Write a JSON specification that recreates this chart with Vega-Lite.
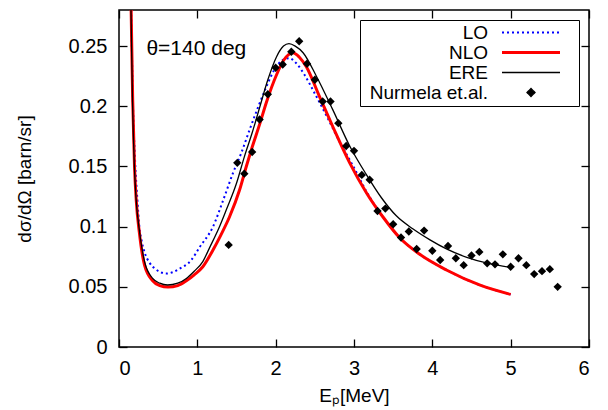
{
  "$schema": "https://vega.github.io/schema/vega-lite/v6.json",
  "width": 470,
  "height": 337,
  "autosize": {"type": "none"},
  "padding": {"left": 119, "top": 10, "right": 19, "bottom": 63},
  "config": {
    "font": "Liberation Sans",
    "view": {"stroke": "black", "strokeWidth": 1.5},
    "axis": {"labelColor": "black", "titleColor": "black", "tickColor": "black", "grid": false, "domain": false, "titleFontWeight": "normal"}
  },
  "datasets": {
    "curves": [
      {"series": "LO", "x": 0.14, "y": 0.33},
      {"series": "LO", "x": 0.155, "y": 0.28},
      {"series": "LO", "x": 0.177, "y": 0.205},
      {"series": "LO", "x": 0.205, "y": 0.155},
      {"series": "LO", "x": 0.235, "y": 0.122},
      {"series": "LO", "x": 0.26, "y": 0.1},
      {"series": "LO", "x": 0.29, "y": 0.088},
      {"series": "LO", "x": 0.33, "y": 0.078},
      {"series": "LO", "x": 0.39, "y": 0.07},
      {"series": "LO", "x": 0.46, "y": 0.065},
      {"series": "LO", "x": 0.52, "y": 0.0625},
      {"series": "LO", "x": 0.6, "y": 0.061},
      {"series": "LO", "x": 0.7, "y": 0.0625},
      {"series": "LO", "x": 0.77, "y": 0.065},
      {"series": "LO", "x": 0.92, "y": 0.072},
      {"series": "LO", "x": 1.03, "y": 0.083},
      {"series": "LO", "x": 1.2, "y": 0.1},
      {"series": "LO", "x": 1.33, "y": 0.122},
      {"series": "LO", "x": 1.455, "y": 0.1445},
      {"series": "LO", "x": 1.56, "y": 0.161},
      {"series": "LO", "x": 1.67, "y": 0.181},
      {"series": "LO", "x": 1.78, "y": 0.2},
      {"series": "LO", "x": 1.88, "y": 0.216},
      {"series": "LO", "x": 1.98, "y": 0.23},
      {"series": "LO", "x": 2.08, "y": 0.238},
      {"series": "LO", "x": 2.17, "y": 0.24},
      {"series": "LO", "x": 2.26, "y": 0.236},
      {"series": "LO", "x": 2.37, "y": 0.226},
      {"series": "LO", "x": 2.48, "y": 0.213},
      {"series": "LO", "x": 2.65, "y": 0.192},
      {"series": "LO", "x": 2.82, "y": 0.17},
      {"series": "LO", "x": 3.0, "y": 0.149},
      {"series": "LO", "x": 3.16, "y": 0.129},
      {"series": "LO", "x": 3.37, "y": 0.108},
      {"series": "LO", "x": 3.58, "y": 0.091},
      {"series": "LO", "x": 3.84, "y": 0.077},
      {"series": "LO", "x": 4.18, "y": 0.064},
      {"series": "LO", "x": 4.61, "y": 0.0514},
      {"series": "LO", "x": 5.0, "y": 0.0437},
      {"series": "NLO", "x": 0.14, "y": 0.33},
      {"series": "NLO", "x": 0.155, "y": 0.28},
      {"series": "NLO", "x": 0.175, "y": 0.205},
      {"series": "NLO", "x": 0.198, "y": 0.15},
      {"series": "NLO", "x": 0.22, "y": 0.122},
      {"series": "NLO", "x": 0.26, "y": 0.095},
      {"series": "NLO", "x": 0.326, "y": 0.068},
      {"series": "NLO", "x": 0.43, "y": 0.055},
      {"series": "NLO", "x": 0.52, "y": 0.051},
      {"series": "NLO", "x": 0.625, "y": 0.0498},
      {"series": "NLO", "x": 0.75, "y": 0.051},
      {"series": "NLO", "x": 0.86, "y": 0.055},
      {"series": "NLO", "x": 0.96, "y": 0.06},
      {"series": "NLO", "x": 1.07, "y": 0.0667},
      {"series": "NLO", "x": 1.2, "y": 0.0806},
      {"series": "NLO", "x": 1.3, "y": 0.093},
      {"series": "NLO", "x": 1.41, "y": 0.108},
      {"series": "NLO", "x": 1.54, "y": 0.1306},
      {"series": "NLO", "x": 1.625, "y": 0.15},
      {"series": "NLO", "x": 1.69, "y": 0.164},
      {"series": "NLO", "x": 1.8, "y": 0.186},
      {"series": "NLO", "x": 1.88, "y": 0.203},
      {"series": "NLO", "x": 2.01, "y": 0.226},
      {"series": "NLO", "x": 2.1, "y": 0.238},
      {"series": "NLO", "x": 2.22, "y": 0.2445},
      {"series": "NLO", "x": 2.3, "y": 0.241},
      {"series": "NLO", "x": 2.39, "y": 0.233},
      {"series": "NLO", "x": 2.56, "y": 0.208},
      {"series": "NLO", "x": 2.73, "y": 0.183},
      {"series": "NLO", "x": 2.945, "y": 0.153},
      {"series": "NLO", "x": 3.16, "y": 0.128},
      {"series": "NLO", "x": 3.37, "y": 0.108},
      {"series": "NLO", "x": 3.58, "y": 0.091},
      {"series": "NLO", "x": 3.84, "y": 0.077},
      {"series": "NLO", "x": 4.18, "y": 0.064},
      {"series": "NLO", "x": 4.61, "y": 0.0514},
      {"series": "NLO", "x": 5.0, "y": 0.0437},
      {"series": "ERE", "x": 0.14, "y": 0.33},
      {"series": "ERE", "x": 0.153, "y": 0.28},
      {"series": "ERE", "x": 0.172, "y": 0.205},
      {"series": "ERE", "x": 0.195, "y": 0.152},
      {"series": "ERE", "x": 0.217, "y": 0.124},
      {"series": "ERE", "x": 0.26, "y": 0.097},
      {"series": "ERE", "x": 0.33, "y": 0.07},
      {"series": "ERE", "x": 0.43, "y": 0.057},
      {"series": "ERE", "x": 0.52, "y": 0.053},
      {"series": "ERE", "x": 0.62, "y": 0.0515},
      {"series": "ERE", "x": 0.75, "y": 0.053},
      {"series": "ERE", "x": 0.86, "y": 0.057},
      {"series": "ERE", "x": 0.96, "y": 0.063},
      {"series": "ERE", "x": 1.07, "y": 0.071},
      {"series": "ERE", "x": 1.16, "y": 0.083},
      {"series": "ERE", "x": 1.27, "y": 0.098},
      {"series": "ERE", "x": 1.37, "y": 0.114},
      {"series": "ERE", "x": 1.5, "y": 0.136},
      {"series": "ERE", "x": 1.6, "y": 0.158},
      {"series": "ERE", "x": 1.7, "y": 0.178},
      {"series": "ERE", "x": 1.8, "y": 0.2},
      {"series": "ERE", "x": 1.9, "y": 0.222},
      {"series": "ERE", "x": 2.01, "y": 0.241},
      {"series": "ERE", "x": 2.1, "y": 0.25},
      {"series": "ERE", "x": 2.17, "y": 0.252},
      {"series": "ERE", "x": 2.25, "y": 0.25},
      {"series": "ERE", "x": 2.35, "y": 0.2445},
      {"series": "ERE", "x": 2.52, "y": 0.225},
      {"series": "ERE", "x": 2.73, "y": 0.197},
      {"series": "ERE", "x": 2.945, "y": 0.167},
      {"series": "ERE", "x": 3.16, "y": 0.143},
      {"series": "ERE", "x": 3.35, "y": 0.124},
      {"series": "ERE", "x": 3.54, "y": 0.109},
      {"series": "ERE", "x": 3.755, "y": 0.098},
      {"series": "ERE", "x": 3.97, "y": 0.089},
      {"series": "ERE", "x": 4.18, "y": 0.0815},
      {"series": "ERE", "x": 4.44, "y": 0.0745},
      {"series": "ERE", "x": 4.69, "y": 0.0698},
      {"series": "ERE", "x": 5.0, "y": 0.066}
    ],
    "points": [
      {"series": "Nurmela et.al.", "x": 1.4, "y": 0.0848},
      {"series": "Nurmela et.al.", "x": 1.51, "y": 0.153},
      {"series": "Nurmela et.al.", "x": 1.6, "y": 0.144},
      {"series": "Nurmela et.al.", "x": 1.7, "y": 0.162},
      {"series": "Nurmela et.al.", "x": 1.795, "y": 0.189},
      {"series": "Nurmela et.al.", "x": 1.9, "y": 0.21},
      {"series": "Nurmela et.al.", "x": 2.0, "y": 0.232},
      {"series": "Nurmela et.al.", "x": 2.09, "y": 0.2347},
      {"series": "Nurmela et.al.", "x": 2.2, "y": 0.2453},
      {"series": "Nurmela et.al.", "x": 2.3, "y": 0.254},
      {"series": "Nurmela et.al.", "x": 2.4, "y": 0.2353},
      {"series": "Nurmela et.al.", "x": 2.5, "y": 0.222},
      {"series": "Nurmela et.al.", "x": 2.6, "y": 0.204},
      {"series": "Nurmela et.al.", "x": 2.7, "y": 0.204},
      {"series": "Nurmela et.al.", "x": 2.8, "y": 0.186},
      {"series": "Nurmela et.al.", "x": 2.9, "y": 0.167},
      {"series": "Nurmela et.al.", "x": 3.0, "y": 0.163},
      {"series": "Nurmela et.al.", "x": 3.1, "y": 0.143},
      {"series": "Nurmela et.al.", "x": 3.2, "y": 0.139},
      {"series": "Nurmela et.al.", "x": 3.3, "y": 0.113},
      {"series": "Nurmela et.al.", "x": 3.4, "y": 0.115},
      {"series": "Nurmela et.al.", "x": 3.5, "y": 0.102},
      {"series": "Nurmela et.al.", "x": 3.6, "y": 0.091},
      {"series": "Nurmela et.al.", "x": 3.7, "y": 0.096},
      {"series": "Nurmela et.al.", "x": 3.8, "y": 0.0814},
      {"series": "Nurmela et.al.", "x": 3.895, "y": 0.0967},
      {"series": "Nurmela et.al.", "x": 4.0, "y": 0.08},
      {"series": "Nurmela et.al.", "x": 4.1, "y": 0.0723},
      {"series": "Nurmela et.al.", "x": 4.2, "y": 0.0839},
      {"series": "Nurmela et.al.", "x": 4.3, "y": 0.0737},
      {"series": "Nurmela et.al.", "x": 4.4, "y": 0.068},
      {"series": "Nurmela et.al.", "x": 4.5, "y": 0.076},
      {"series": "Nurmela et.al.", "x": 4.6, "y": 0.079},
      {"series": "Nurmela et.al.", "x": 4.7, "y": 0.0695},
      {"series": "Nurmela et.al.", "x": 4.8, "y": 0.0687},
      {"series": "Nurmela et.al.", "x": 4.9, "y": 0.077},
      {"series": "Nurmela et.al.", "x": 5.0, "y": 0.0667},
      {"series": "Nurmela et.al.", "x": 5.1, "y": 0.0737},
      {"series": "Nurmela et.al.", "x": 5.2, "y": 0.068},
      {"series": "Nurmela et.al.", "x": 5.3, "y": 0.0606},
      {"series": "Nurmela et.al.", "x": 5.4, "y": 0.063},
      {"series": "Nurmela et.al.", "x": 5.5, "y": 0.0647},
      {"series": "Nurmela et.al.", "x": 5.6, "y": 0.05}
    ]
  },
  "resolve": {"axis": {"x": "independent", "y": "independent"}},
  "layer": [
    {
      "data": {"name": "curves"},
      "transform": [{"filter": "datum.series === 'LO'"}],
      "mark": {"type": "line", "clip": true, "interpolate": "monotone", "strokeWidth": 2, "strokeDash": [2, 3]},
      "encoding": {
        "x": {"field": "x", "type": "quantitative", "scale": {"domain": [0, 6], "nice": false},
          "axis": {"orient": "bottom", "values": [0, 1, 2, 3, 4, 5, 6], "tickSize": -8, "tickWidth": 1.3, "labelFontSize": 20, "labelPadding": 19, "title": "Eₚ[MeV]", "titleFontSize": 19, "titlePadding": 8}},
        "y": {"field": "y", "type": "quantitative", "scale": {"domain": [0, 0.28], "nice": false},
          "axis": {"orient": "left", "values": [0, 0.05, 0.1, 0.15, 0.2, 0.25], "format": "~g", "tickSize": -8, "tickWidth": 1.3, "labelFontSize": 20, "labelPadding": 20, "title": "dσ/dΩ [barn/sr]", "titleFontSize": 19, "titlePadding": 34}},
        "color": {"field": "series", "type": "nominal",
          "scale": {"domain": ["LO", "NLO", "ERE", "Nurmela et.al."], "range": ["#0000ff", "#ff0000", "#000000", "#000000"]},
          "legend": {
            "title": null, "orient": "top-right", "offset": 10,
            "strokeColor": "black", "fillColor": "white", "padding": 3,
            "labelFontSize": 19, "labelColor": "black", "labelLimit": 200,
            "symbolSize": 4, "rowPadding": 0,
            "encode": {
              "symbols": {"update": {
                "x": {"value": 125},
                "shape": {"signal": "datum.value === 'Nurmela et.al.' ? 'M-132,0M82,0M43,-4L47,0L43,4L39,0Z' : 'M-132,0M14,0L72,0M82,0'"},
                "size": {"value": 4},
                "strokeDash": {"signal": "datum.value === 'LO' ? [2, 3] : [1, 0]"},
                "strokeWidth": {"signal": "datum.value === 'NLO' ? 3 : (datum.value === 'LO' ? 2 : 1.3)"},
                "fill": {"signal": "datum.value === 'Nurmela et.al.' ? 'black' : 'transparent'"},
                "stroke": {"signal": "datum.value === 'LO' ? '#0000ff' : (datum.value === 'NLO' ? '#ff0000' : 'black')"},
                "opacity": {"value": 1}
              }},
              "labels": {"update": {
                "x": {"value": 125},
                "align": {"value": "right"}
              }}
            }
          }}
      }
    },
    {
      "data": {"name": "curves"},
      "transform": [{"filter": "datum.series === 'NLO'"}],
      "mark": {"type": "line", "clip": true, "interpolate": "monotone", "strokeWidth": 3},
      "encoding": {
        "x": {"field": "x", "type": "quantitative", "scale": {"domain": [0, 6], "nice": false}, "axis": null},
        "y": {"field": "y", "type": "quantitative", "scale": {"domain": [0, 0.28], "nice": false}, "axis": null},
        "color": {"field": "series", "type": "nominal"}
      }
    },
    {
      "data": {"name": "curves"},
      "transform": [{"filter": "datum.series === 'ERE'"}],
      "mark": {"type": "line", "clip": true, "interpolate": "monotone", "strokeWidth": 1.3},
      "encoding": {
        "x": {"field": "x", "type": "quantitative", "scale": {"domain": [0, 6], "nice": false}, "axis": null},
        "y": {"field": "y", "type": "quantitative", "scale": {"domain": [0, 0.28], "nice": false}, "axis": null},
        "color": {"field": "series", "type": "nominal"}
      }
    },
    {
      "data": {"name": "points"},
      "mark": {"type": "point", "shape": "diamond", "filled": true, "size": 70, "opacity": 1},
      "encoding": {
        "x": {"field": "x", "type": "quantitative", "scale": {"domain": [0, 6], "nice": false},
          "axis": {"orient": "top", "values": [0, 1, 2, 3, 4, 5, 6], "tickSize": -8, "tickWidth": 1.3, "labels": false, "title": null}},
        "y": {"field": "y", "type": "quantitative", "scale": {"domain": [0, 0.28], "nice": false},
          "axis": {"orient": "right", "values": [0, 0.05, 0.1, 0.15, 0.2, 0.25], "tickSize": -8, "tickWidth": 1.3, "labels": false, "title": null}},
        "color": {"field": "series", "type": "nominal"}
      }
    },
    {
      "data": {"values": [{"label": "θ=140 deg"}]},
      "mark": {"type": "text", "align": "left", "baseline": "middle", "fontSize": 21, "color": "black"},
      "encoding": {
        "x": {"datum": 0.35, "type": "quantitative", "axis": null},
        "y": {"datum": 0.248, "type": "quantitative", "axis": null},
        "text": {"field": "label"}
      }
    }
  ]
}
